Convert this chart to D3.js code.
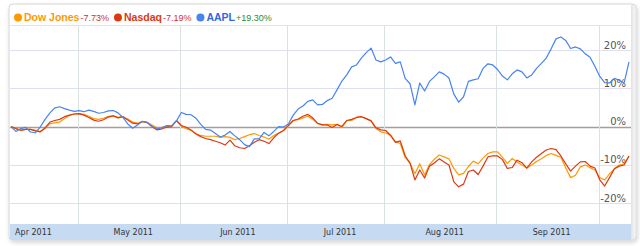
<!DOCTYPE html>
<html>
<head>
<meta charset="utf-8">
<script src="https://cdn.jsdelivr.net/npm/d3@7/dist/d3.min.js"></script>
<style>
  body { margin: 0; background: #fff; }
</style>
</head>
<body>
<div id="chart"></div>
<script>
// month labels and the trading-day index of each month's first session (Apr 11 2011 = day 0)
var monthLabels = ["Apr 2011", "May 2011", "Jun 2011", "Jul 2011", "Aug 2011", "Sep 2011"];
var monthStarts = [-6, 14, 35, 57, 77, 100, 121];

var yTicks = [-20, -10, 0, 10, 20];

// % change since start, one value per trading day
var dow = [0,-0.5,-0.9,-0.7,-0.7,-0.9,-1.3,-0.5,0.8,1.0,
  1.2,2.1,2.9,3.3,3.4,3.2,2.7,2.1,1.9,2.2,
  2.7,2.8,2.4,2.6,2.0,1.2,0.9,1.3,1.1,0.4,
  -0.3,-0.2,0.05,0.2,1.5,0.2,-0.55,-1.0,-1.8,-2.3,
  -2.5,-2.5,-2.5,-2.8,-2.6,-2.8,-3.4,-3.1,-2.6,-2.1,
  -1.8,-2.3,-2.7,-3.3,-2.3,-1.7,-1.0,0.3,1.6,1.8,
  2.3,2.7,1.9,0.8,0.45,0.6,0.45,0.6,-0.2,1.6,
  1.6,2.4,2.6,2.1,1.5,-0.5,-1.35,-1.65,-2.2,-3.9,
  -4.4,-8.1,-9.5,-12.3,-9.7,-12.6,-9.9,-8.5,-7.4,-7.9,
  -8.4,-10.9,-12.6,-12.2,-10.4,-9.0,-9.7,-8.2,-7.0,-6.6,
  -6.6,-8.0,-9.6,-8.3,-9.2,-10.0,-10.8,-10.0,-9.1,-8.4,
  -7.5,-7.0,-7.5,-8.0,-10.8,-13.3,-12.7,-10.5,-10.0,-10.7,
  -11.3,-13.3,-13.9,-12.3,-11.0,-10.0,-9.7,-7.65];

var nasdaq = [0,-0.5,-0.95,-0.7,-0.7,-1.1,-1.35,-0.35,1.2,1.6,
  1.9,2.6,3.0,3.3,3.4,3.0,2.4,1.7,1.4,1.8,
  2.5,2.8,2.3,2.6,1.75,0.9,0.7,1.35,1.05,-0.05,
  -0.85,-0.6,-0.1,0,1.6,0.3,-0.15,-0.85,-1.9,-2.6,
  -3.1,-3.4,-3.8,-4.2,-4.8,-3.5,-5.0,-5.5,-5.7,-5.0,
  -4.05,-3.4,-3.8,-4.4,-2.9,-1.7,-1.0,0.25,1.6,2.0,
  2.7,3.2,2.3,0.9,0.45,0.45,-0.2,0.55,0.05,1.6,
  1.9,2.4,2.6,2.1,1.5,-0.3,-0.85,-1.0,-2.3,-4.1,
  -3.7,-7.6,-9.5,-13.9,-11.3,-13.4,-10.3,-9.5,-8.4,-9.2,
  -10.0,-14.4,-15.7,-15.0,-11.7,-11.3,-12.5,-10.3,-7.9,-7.6,
  -7.65,-8.6,-10.9,-10.65,-8.75,-9.4,-10.8,-9.2,-8.0,-7.0,
  -6.1,-5.7,-6.0,-7.65,-9.7,-11.6,-10.3,-9.2,-9.1,-10.3,
  -10.8,-13.9,-15.5,-13.3,-11.0,-10.3,-10.0,-7.65];

var aapl = [0,-1.25,-0.5,-0.2,-1.4,-1.6,-0.1,1.9,3.6,4.9,
  5.2,4.7,4.3,4.0,4.2,3.9,4.3,4.0,3.5,3.7,
  4.1,4.2,3.6,2.4,0.7,-0.4,0.4,1.4,1.1,0.05,
  -0.5,-0.3,0.3,0.2,1.5,3.7,3.2,3.1,2.2,0.6,
  -0.7,-0.9,-1.8,-2.7,-2.2,-1.25,-2.4,-3.4,-4.7,-5.2,
  -3.2,-3.2,-1.5,-2.4,-1.25,0,-0.1,0.7,3.0,4.6,
  5.4,6.6,7.0,5.7,5.8,6.8,7.4,9.6,11.9,13.5,
  15.6,16.1,17.9,19.3,20.5,17.4,16.9,17.4,18.2,16.5,
  16.9,12.6,11.2,5.7,11.4,9.3,11.8,13.0,14.3,13.7,
  12.7,8.5,6.4,7.8,11.8,12.2,12.5,15.2,16.4,16.1,
  14.9,13.2,12.2,13.8,14.8,14.3,12.7,13.5,15.2,16.5,
  17.9,20.3,22.9,23.4,22.5,20.4,20.8,20.3,19.0,18.1,
  15.7,13.1,11.5,11.4,12.6,12.1,11.4,16.9];

var seriesNames = ["Dow Jones", "Nasdaq", "AAPL"];
var seriesChange = ["-7.73%", "-7.19%", "+19.30%"];
var seriesValues = [dow, nasdaq, aapl];
var lineColors = ["#ff9900", "#dc3912", "#4684ee"];
var nameColors = ["#ff9900", "#dc3912", "#3366dd"];

var W = 640, H = 246;
var plot = {left: 10, right: 631, top: 26, bottom: 224};

var svg = d3.select("#chart").append("svg")
    .attr("width", W)
    .attr("height", H);

var defs = svg.append("defs");
var shadow = defs.append("filter").attr("id", "shadow")
    .attr("x", "-5%").attr("y", "-5%").attr("width", "110%").attr("height", "115%");
shadow.append("feDropShadow")
    .attr("dx", 1).attr("dy", 2).attr("stdDeviation", 2)
    .attr("flood-color", "#000").attr("flood-opacity", 0.18);
defs.append("clipPath").attr("id", "clip")
  .append("rect")
    .attr("x", plot.left).attr("y", plot.top)
    .attr("width", plot.right - plot.left).attr("height", plot.bottom - plot.top);
var strip = defs.append("linearGradient").attr("id", "strip");
strip.append("stop").attr("offset", "0%").attr("stop-color", "#e2e2e2");
strip.append("stop").attr("offset", "100%").attr("stop-color", "#f6f6f6");

// panel
svg.append("rect")
    .attr("x", 9).attr("y", 4)
    .attr("width", 627).attr("height", 236)
    .attr("rx", 4)
    .attr("fill", "#fff")
    .attr("stroke", "#d6d6d6")
    .attr("filter", "url(#shadow)");

// grey strip on the right edge
svg.append("rect")
    .attr("x", plot.right).attr("y", 5)
    .attr("width", 4).attr("height", 234)
    .attr("fill", "url(#strip)");

// scales
var x = d3.scaleLinear().domain([0, dow.length - 1]).range([11, 629]);
var y = d3.scaleLinear().domain([-20, 20]).range([203.3, 50]);

// legend divider
svg.append("line")
    .attr("x1", plot.left).attr("x2", plot.right)
    .attr("y1", plot.top - 0.5).attr("y2", plot.top - 0.5)
    .attr("stroke", "#e4e4e4");

// horizontal grid
svg.selectAll(".hgrid")
  .data(yTicks)
  .enter().append("line")
    .attr("x1", plot.left).attr("x2", plot.right)
    .attr("y1", function(d) { return Math.round(y(d)) + 0.5; })
    .attr("y2", function(d) { return Math.round(y(d)) + 0.5; })
    .attr("stroke", function(d) { return d === 0 ? "#ab9b9b" : "#dedff0"; })
    .attr("stroke-width", function(d) { return d === 0 ? 1.6 : 1; });

// vertical grid at month starts
svg.selectAll(".vgrid")
  .data(monthStarts.slice(1))
  .enter().append("line")
    .attr("x1", function(d) { return Math.round(x(d - 0.25)) + 0.5; })
    .attr("x2", function(d) { return Math.round(x(d - 0.25)) + 0.5; })
    .attr("y1", plot.top).attr("y2", plot.bottom)
    .attr("stroke", "#d9e1e1");

// y labels
svg.selectAll(".ylab")
  .data(yTicks)
  .enter().append("text")
    .attr("x", 626)
    .attr("y", function(d) { return y(d) - 1.5; })
    .attr("text-anchor", "end")
    .style("font-family", "DejaVu Sans")
    .style("font-size", "10px")
    .style("fill", "#555")
    .text(function(d) { return d + "%"; });

// lines
var line = d3.line()
    .x(function(d, i) { return x(i); })
    .y(function(d) { return y(d); });

svg.append("g").attr("clip-path", "url(#clip)")
  .selectAll("path")
  .data(seriesValues)
  .enter().append("path")
    .attr("d", line)
    .attr("fill", "none")
    .attr("stroke", function(d, i) { return lineColors[i]; })
    .attr("stroke-width", 1.2)
    .attr("stroke-linejoin", "round");

// bottom month band
svg.append("rect")
    .attr("x", plot.left).attr("y", plot.bottom)
    .attr("width", plot.right - plot.left).attr("height", 16)
    .attr("fill", "#c6daf2");

svg.selectAll(".xlab")
  .data(monthLabels)
  .enter().append("text")
    .attr("x", function(d, i) { return x((monthStarts[i] + monthStarts[i + 1]) / 2) + 3; })
    .attr("y", 235)
    .attr("text-anchor", "middle")
    .style("font-family", "DejaVu Sans")
    .style("font-size", "8px")
    .style("fill", "#333")
    .text(function(d) { return d; });

// legend
var lx = 14;
seriesNames.forEach(function(name, i) {
  svg.append("circle")
      .attr("cx", lx + 4).attr("cy", 17.5).attr("r", 4)
      .attr("fill", lineColors[i]);
  var t = svg.append("text")
      .attr("x", lx + 10).attr("y", 21)
      .style("font-family", "Liberation Sans, Arial, sans-serif")
      .style("font-size", "10.5px")
      .style("font-weight", "bold")
      .style("fill", nameColors[i])
      .text(name);
  var nx = lx + 10 + t.node().getComputedTextLength() + 1;
  var v = svg.append("text")
      .attr("x", nx).attr("y", 21)
      .style("font-family", "Liberation Sans, Arial, sans-serif")
      .style("font-size", "9px")
      .style("fill", seriesChange[i][0] === "-" ? "#cc3333" : "#2f8a2f")
      .text(seriesChange[i]);
  lx = nx + v.node().getComputedTextLength() + 5;
});
</script>
</body>
</html>
